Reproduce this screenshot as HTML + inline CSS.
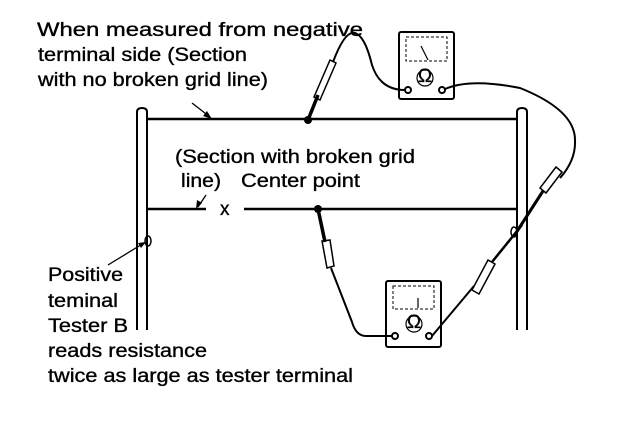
<!DOCTYPE html>
<html><head><meta charset="utf-8"><style>
html,body{margin:0;padding:0;background:#fff;}
svg{display:block;}
text{font-family:"Liberation Sans",sans-serif;font-size:19px;fill:#000;stroke:#000;stroke-width:0.35;}
</style></head><body>
<svg width="624" height="426" viewBox="0 0 624 426" xmlns="http://www.w3.org/2000/svg">
<g stroke="#000" fill="none" stroke-width="2">
<path d="M137,330 V112 Q137,108 142,108 Q147,108 147,112 V330"/>
<path d="M517,330 V112 Q517,108 522,108 Q527,108 527,112 V330"/>
<line x1="147" y1="119" x2="517" y2="119" stroke-width="2.5"/>
<line x1="147" y1="209" x2="206" y2="209" stroke-width="2.5"/>
<line x1="244" y1="209" x2="517" y2="209" stroke-width="2.5"/>
<rect x="399" y="32" width="55" height="67" rx="2"/>
<rect x="406" y="37" width="41" height="24" stroke-width="1" stroke-dasharray="3,2"/>
<line x1="421" y1="46" x2="428" y2="60" stroke-width="1.2"/>
<circle cx="425" cy="78" r="8" stroke-width="1.2"/>
<circle cx="408" cy="90" r="3"/>
<circle cx="442" cy="90" r="3"/>
<rect x="386" y="281" width="55" height="66" rx="2"/>
<rect x="393" y="286" width="41" height="23" stroke-width="1" stroke-dasharray="3,2"/>
<line x1="418" y1="298" x2="418" y2="308" stroke-width="1.2"/>
<circle cx="414" cy="324" r="8" stroke-width="1.2"/>
<circle cx="395" cy="336" r="3"/>
<circle cx="429" cy="336" r="3"/>
<line x1="308" y1="120" x2="318" y2="95" stroke-width="3.5"/>
<path d="M314,97 L330,60 L336,63 L320,100 Z" stroke-width="1.5"/>
<path d="M333,62 Q345,30 355,33 Q365,36 372,65 Q380,90 405,90"/>
<path d="M445,89 Q470,78 520,88 Q575,110 575,140 Q576,160 560,178"/>
<path d="M562,172 L546,193 L540,188 L556,167 Z" stroke-width="1.5"/>
<line x1="543" y1="191" x2="514" y2="236" stroke-width="3"/>
<ellipse cx="514" cy="232" rx="3" ry="5" stroke-width="1.5"/>
<line x1="318" y1="209" x2="325" y2="242" stroke-width="3.5"/>
<path d="M322,241 L330,240 L334,266 L327,268 Z" stroke-width="1.5"/>
<path d="M331,268 L352,322 Q356,336 366,336 L392,336"/>
<path d="M432,336 L474,286"/>
<path d="M472,290 L488,260 L495,264 L479,294 Z" stroke-width="1.5"/>
<line x1="492" y1="262" x2="522" y2="225" stroke-width="2.5"/>
<ellipse cx="148" cy="241" rx="3" ry="5" stroke-width="1.5"/>
<line x1="108" y1="265" x2="144" y2="243" stroke-width="1.3"/>
<line x1="192" y1="103" x2="210" y2="117" stroke-width="1.3"/>
<line x1="206" y1="195" x2="198" y2="207" stroke-width="1.3"/>
</g>
<g fill="#000">
<circle cx="308" cy="120" r="4"/>
<circle cx="318" cy="209" r="4"/>
<polygon points="212,119 203,116 207,111"/>
<polygon points="196,209 197,200 202,203"/>
<polygon points="146,242 138,243 141,248"/>
</g>
<g>
<text x="37" y="36" textLength="326" lengthAdjust="spacingAndGlyphs">When measured from negative</text>
<text x="38" y="61" textLength="209" lengthAdjust="spacingAndGlyphs">terminal side (Section</text>
<text x="38" y="86" textLength="230" lengthAdjust="spacingAndGlyphs">with no broken grid line)</text>
<text x="175" y="163" textLength="240" lengthAdjust="spacingAndGlyphs">(Section with broken grid</text>
<text x="181" y="187" textLength="40" lengthAdjust="spacingAndGlyphs">line)</text>
<text x="241" y="187" textLength="119" lengthAdjust="spacingAndGlyphs">Center point</text>
<text x="220" y="215" font-size="15">x</text>
<text x="48" y="281" textLength="75" lengthAdjust="spacingAndGlyphs">Positive</text>
<text x="48" y="307" textLength="70" lengthAdjust="spacingAndGlyphs">teminal</text>
<text x="48" y="332" textLength="80" lengthAdjust="spacingAndGlyphs">Tester B</text>
<text x="48" y="357" textLength="159" lengthAdjust="spacingAndGlyphs">reads resistance</text>
<text x="48" y="382" textLength="305" lengthAdjust="spacingAndGlyphs">twice as large as tester terminal</text>
<text x="425" y="82" font-size="11" text-anchor="middle" stroke-width="0.2">Ω</text>
<text x="414" y="328" font-size="11" text-anchor="middle" stroke-width="0.2">Ω</text>
</g>
</svg>
</body></html>
